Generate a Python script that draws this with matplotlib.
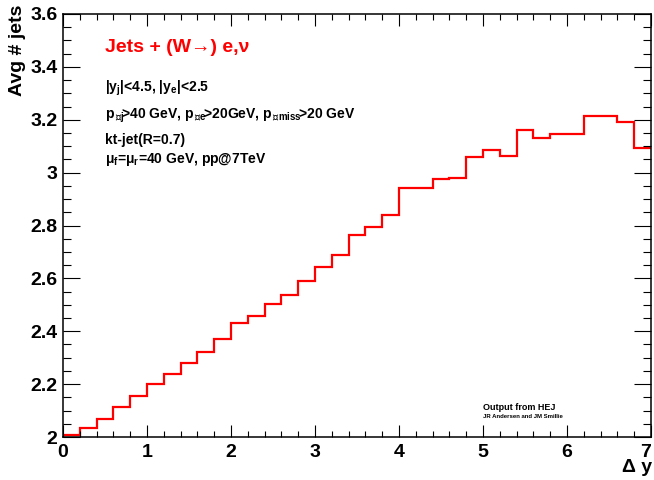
import numpy as np
import matplotlib
matplotlib.use("Agg")
import matplotlib.pyplot as plt
from matplotlib.ticker import MultipleLocator

# ---- data ----
bin_edges = np.round(np.arange(0, 7.0001, 0.2), 1)
avg_jets = [2.008, 2.035, 2.069, 2.112, 2.156, 2.200, 2.238, 2.281, 2.321, 2.370,
            2.432, 2.459, 2.502, 2.536, 2.591, 2.644, 2.688, 2.763, 2.794, 2.840,
            2.940, 2.940, 2.974, 2.981, 3.059, 3.086, 3.063, 3.163, 3.131, 3.147,
            3.147, 3.214, 3.214, 3.191, 3.093]
x_ticks = [0, 1, 2, 3, 4, 5, 6, 7]
x_tick_labels = ["0", "1", "2", "3", "4", "5", "6", "7"]
y_ticks = [2.0, 2.2, 2.4, 2.6, 2.8, 3.0, 3.2, 3.4, 3.6]
y_tick_labels = ["2", "2.2", "2.4", "2.6", "2.8", "3", "3.2", "3.4", "3.6"]

plt.rcParams['font.family'] = ['Liberation Sans', 'DejaVu Sans']
plt.rcParams['font.weight'] = 'bold'
plt.rcParams['mathtext.fontset'] = 'custom'
plt.rcParams['mathtext.rm'] = 'Liberation Sans:bold'
plt.rcParams['mathtext.it'] = 'Liberation Sans:bold'
plt.rcParams['mathtext.bf'] = 'Liberation Sans:bold'
plt.rcParams['mathtext.sf'] = 'DejaVu Sans:bold'
plt.rcParams['mathtext.fallback'] = 'stixsans'

W, H = 654, 480
fig = plt.figure(figsize=(W / 100, H / 100), dpi=100)
ax = fig.add_axes([63 / W, 1 - 437 / H, (651 - 63) / W, (437 - 14) / H])

ax.stairs(avg_jets, bin_edges, baseline=None, color='#ff0000', linewidth=1.6)

ax.set_xlim(0, 7)
ax.set_ylim(2.0, 3.6)
ax.set_xticks(x_ticks)
ax.set_xticklabels(x_tick_labels)
ax.set_yticks(y_ticks)
ax.set_yticklabels(y_tick_labels)
ax.xaxis.set_minor_locator(MultipleLocator(0.2))
ax.yaxis.set_minor_locator(MultipleLocator(0.05))

ax.tick_params(axis='x', which='major', direction='in', length=8.6, width=0.8,
               top=True, bottom=True, labelsize=14, pad=5)
ax.tick_params(axis='x', which='minor', direction='in', length=4.3, width=0.8,
               top=True, bottom=True)
ax.tick_params(axis='y', which='major', direction='in', length=12, width=0.8,
               left=True, right=True, labelsize=14, pad=4)
ax.tick_params(axis='y', which='minor', direction='in', length=6, width=0.8,
               left=True, right=True)
for lab in ax.get_xticklabels() + ax.get_yticklabels():
    lab.set_fontweight('bold')
ax.get_xticklabels()[-1].set_horizontalalignment('right')
for sp in ax.spines.values():
    sp.set_linewidth(1.1)

def fx(px):
    return px / W

def fy(py):
    return 1 - py / H

fig.text(fx(18), fy(5), "Avg # jets", rotation=90, ha='center', va='top',
         fontsize=14, fontweight='bold')
fig.text(fx(652), fy(468), "Δ y", ha='right', va='center',
         fontsize=14, fontweight='bold')

fig.text(fx(105), fy(47), "Jets + (W→) e,ν", ha='left', va='center',
         fontsize=14, fontweight='bold', color='#ff0000')

fs = 10
fig.text(fx(105), fy(88), r"|y$_{\mathrm{j}}$|<4.5, |y$_{\mathrm{e}}$|<2.5",
         ha='left', va='center', fontsize=fs, fontweight='bold')
fig.text(fx(105), fy(116),
         r"p$_{\mathsf{\perp}\!\mathrm{j}}\!$>40 GeV, p$_{\mathsf{\perp}\!\mathrm{e}}\!$>20GeV, p$_{\mathsf{\perp}\!\mathrm{miss}}\!$>20 GeV",
         ha='left', va='center', fontsize=fs, fontweight='bold')
fig.text(fx(105), fy(140), "kt-jet(R=0.7)", ha='left', va='center',
         fontsize=fs, fontweight='bold')
fig.text(fx(105), fy(159), r"μ$_{\mathrm{f}}$=μ$_{\mathrm{r}}$=40 GeV, pp@7TeV",
         ha='left', va='center', fontsize=fs, fontweight='bold')

fig.text(fx(483), fy(407), "Output from HEJ", ha='left', va='center',
         fontsize=6.5, fontweight='bold')
fig.text(fx(483), fy(416), "JR Andersen and JM Smillie", ha='left', va='center',
         fontsize=4.3, fontweight='bold')

fig.savefig("out.png", dpi=100)
